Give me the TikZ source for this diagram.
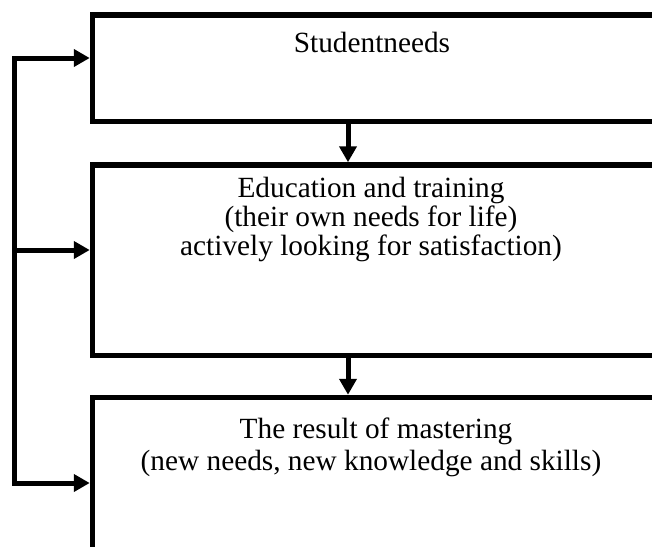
\documentclass[tikz,border=0pt]{standalone}
\usepackage{fontspec}
\setmainfont{Liberation Serif}
\usetikzlibrary{arrows.meta}
\begin{document}
\begin{tikzpicture}[x=1pt,y=-1pt,
  box/.style={draw,line width=5.5pt,rectangle,inner sep=0pt,anchor=north west,minimum width=565.5pt},
  lbl/.style={anchor=base,inner sep=0pt,font=\fontsize{29.3}{30}\selectfont},
  conn/.style={line width=5pt,line join=miter},
  tip/.style={-{Triangle[length=16pt,width=17pt]}}]
\useasboundingbox (0,0) rectangle (652,546);
\clip (0,0) rectangle (652,546);
\node[box,minimum height=106.5pt] (b1) at (89.75,12.25) {};
\node[box,minimum height=190.5pt] (b2) at (89.75,162.25) {};
\node[box,minimum height=170pt] (b3) at (89.75,394.75) {};
\node[lbl] (t1) at (372,52) {Studentneeds};
\node[lbl] (t2a) at (371,197) {Education and training};
\node[lbl] (t2b) at (371,226.5) {(their own needs for life)};
\node[lbl] (t2c) at (371,255) {actively looking for satisfaction)};
\node[lbl] (t3a) at (376,438) {The result of mastering};
\node[lbl] (t3b) at (371,470) {(new needs, new knowledge and skills)};
\coordinate (ax) at (348,0);
\coordinate (L1) at (14.5,58);
\coordinate (L2) at (14.5,250);
\coordinate (L3) at (14.5,483);
\draw[conn,tip] (b1.south -| ax) -- (b2.north -| ax);
\draw[conn,tip] (b2.south -| ax) -- (b3.north -| ax);
\draw[conn,{Triangle[length=16pt,width=17pt]}-{Triangle[length=16pt,width=17pt]}] (L1 -| b1.west) -- (L1) -- (L3) -- (L3 -| b3.west);
\draw[conn,tip] (L2) -- (L2 -| b2.west);
\end{tikzpicture}
\end{document}
